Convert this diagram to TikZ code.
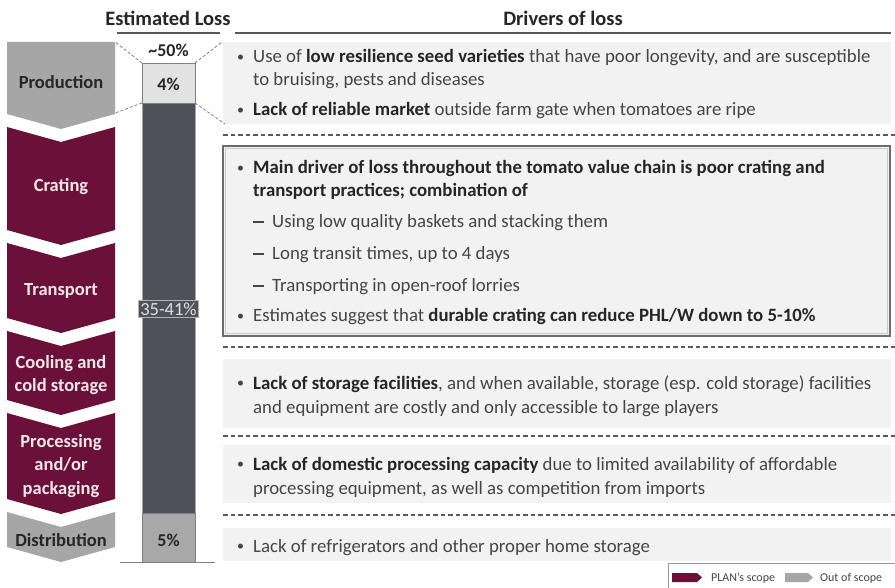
\documentclass[tikz,border=0pt]{standalone}
\usepackage{fontspec}
\setmainfont{Carlito}
\newcommand{\bulletmark}{\makebox[16pt][l]{\raisebox{1.8pt}{\fontsize{14}{14}\selectfont\textbullet}}}
\newcommand{\dashmark}{\makebox[19pt][l]{\rule[5pt]{11pt}{1.6pt}}}
\begin{document}
\definecolor{maroon}{HTML}{6B1139}
\definecolor{chevgray}{HTML}{A6A6A6}
\definecolor{panel}{HTML}{F2F2F2}
\definecolor{bardark}{HTML}{50505A}
\definecolor{barlight}{HTML}{E2E2E2}
\definecolor{barmid}{HTML}{A8A8A8}
\definecolor{ink}{HTML}{262626}
\definecolor{body}{HTML}{454545}
\definecolor{rule}{HTML}{5A5A5A}
\begin{tikzpicture}[x=1pt,y=-1pt,
  chevtxt/.style={font=\fontsize{18.5}{23.5}\selectfont\bfseries, align=center, inner sep=0pt},
  maroontxt/.style={chevtxt, text=white!90!maroon},
  graytxt/.style={chevtxt, text=ink},
  head/.style={font=\fontsize{20.5}{24}\selectfont\bfseries, text=ink, inner sep=0pt},
  line/.style={font=\fontsize{18.8}{22}\selectfont, text=body, anchor=base west, inner sep=0pt},
  bartxt/.style={font=\fontsize{18}{21}\selectfont\bfseries, text=ink, inner sep=0pt},
  sep/.style={draw=rule, line width=1.3pt, dash pattern=on 4.5pt off 3pt},
  zoomline/.style={draw=gray, line width=0.8pt, dash pattern=on 3pt off 2pt},
  legtxt/.style={font=\fontsize{12}{13}\selectfont, text=ink!85, anchor=west, inner sep=0pt}]
\useasboundingbox (0,0) rectangle (895,588);
\fill[white] (0,0) rectangle (895,588);

% value chain chevrons (x from 7 to 115, point depth 15)
\fill[chevgray] (7,42) -- (115,42) -- (115,114) -- (61,129) -- (7,114) -- cycle;
\fill[maroon] (7,127) -- (61,142) -- (115,127) -- (115,230) -- (61,245) -- (7,230) -- cycle;
\fill[maroon] (7,243) -- (61,258) -- (115,243) -- (115,318) -- (61,333) -- (7,318) -- cycle;
\fill[maroon] (7,331) -- (61,346) -- (115,331) -- (115,400) -- (61,415) -- (7,400) -- cycle;
\fill[maroon] (7,413) -- (61,428) -- (115,413) -- (115,499) -- (61,514) -- (7,499) -- cycle;
\fill[chevgray] (7,512) -- (61,527) -- (115,512) -- (115,547) -- (61,562) -- (7,547) -- cycle;

\node[graytxt] (production) at (61,82) {Production};
\node[maroontxt] (crating) at (61,187) {Crating};
\node[maroontxt] (transport) at (61,291) {Transport};
\node[maroontxt] (cooling) at (61,375) {Cooling and\\cold storage};
\node[maroontxt] (processing) at (61,466) {Processing\\and/or\\packaging};
\node[graytxt] (distribution) at (61,540) {Distribution};

% headers
\node[head] (estloss) at (168,18) {Estimated Loss};
\node[head] (drivers) at (563,18) {Drivers of loss};
\draw[rule, line width=2pt] (117,33) -- (220,33);
\draw[rule, line width=2pt] (235,33) -- (891,33);

% loss bar
\fill[bardark] (142,103) rectangle (195,513);
\draw[gray!70, line width=0.8pt] (142,103) rectangle (195,513);
\fill[barlight] (142,63) rectangle (195,103);
\draw[gray, line width=0.8pt] (142,63) rectangle (195,103);
\fill[barmid] (142,513) rectangle (195,562);
\draw[gray, line width=0.8pt] (142,513) rectangle (195,562);
\draw[gray, line width=1.5pt] (120,562.5) -- (215,562.5);
\node[bartxt] (pct50) at (168.5,50) {\char"7E 50\%};
\node[bartxt] (pct4) at (168.5,84) {4\%};
\node[bartxt] (pct5) at (168.5,540) {5\%};
\node[draw=gray!60, line width=0.8pt, fill=bardark, text=white!88!black,
      font=\fontsize{18.5}{21}\selectfont, inner xsep=1.5pt, inner ysep=2.5pt] (pct35) at (168.5,309) {35-41\%};

% panel backgrounds
\fill[panel] (223,42) rectangle (891,124);
\fill[panel] (223,359) rectangle (891,428);
\fill[panel] (223,445) rectangle (891,503);
\fill[panel] (223,528) rectangle (891,561);
\draw[fill=panel, draw=gray!85!black, line width=2.6pt] (223,146) rectangle (890,336);
\draw[gray!40, line width=0.6pt] (225.5,148.5) rectangle (887.5,333.5);

% separators
\path[sep] (223,135) -- (895,135);
\path[sep] (223,347) -- (895,347);
\path[sep] (223,436) -- (895,436);
\path[sep] (223,515) -- (895,515);

% zoom lines from the production slice
\path[zoomline] (142,63) -- (115,42);
\path[zoomline] (142,103) -- (115,113);
\path[zoomline] (195,63) -- (222,42);
\path[zoomline] (195,103) -- (225,124);

% drivers of loss
\node[line] (p1a) at (237,63) {\bulletmark Use of \textbf{\color{ink}low resilience seed varieties} that have poor longevity, and are susceptible};
\node[line] (p1b) at (253,86) {to bruising, pests and diseases};
\node[line] (p1c) at (237,116) {\bulletmark\textbf{\color{ink}Lack of reliable market} outside farm gate when tomatoes are ripe};

\node[line] (p2a) at (237,174) {\bulletmark\textbf{\color{ink}Main driver of loss throughout the tomato value chain is poor crating and}};
\node[line] (p2b) at (253,197) {\textbf{\color{ink}transport practices; combination of}};
\node[line] (p2c) at (253,228) {\dashmark Using low quality baskets and stacking them};
\node[line] (p2d) at (253,260) {\dashmark Long transit times, up to 4 days};
\node[line] (p2e) at (253,292) {\dashmark Transporting in open-roof lorries};
\node[line] (p2f) at (237,322) {\bulletmark Estimates suggest that \textbf{\color{ink}durable crating can reduce PHL/W down to 5-10\%}};

\node[line] (p3a) at (237,389) {\bulletmark\textbf{\color{ink}Lack of storage facilities}, and when available, storage (esp. cold storage) facilities};
\node[line] (p3b) at (253,413) {and equipment are costly and only accessible to large players};

\node[line] (p4a) at (237,470) {\bulletmark\textbf{\color{ink}Lack of domestic processing capacity} due to limited availability of affordable};
\node[line] (p4b) at (253,494) {processing equipment, as well as competition from imports};

\node[line] (p5a) at (237,552) {\bulletmark Lack of refrigerators and other proper home storage};

% legend
\draw[gray!80, line width=0.8pt] (668,588) -- (668,563.5) -- (895,563.5);
\fill[maroon] (672,573) -- (697,573) -- (702,577.5) -- (697,582) -- (672,582) -- cycle;
\node[legtxt] (legplan) at (711,578) {PLAN's scope};
\fill[chevgray] (785,573) -- (808,573) -- (813,577.5) -- (808,582) -- (785,582) -- cycle;
\node[legtxt] (legout) at (820,578) {Out of scope};
\end{tikzpicture}
\end{document}
